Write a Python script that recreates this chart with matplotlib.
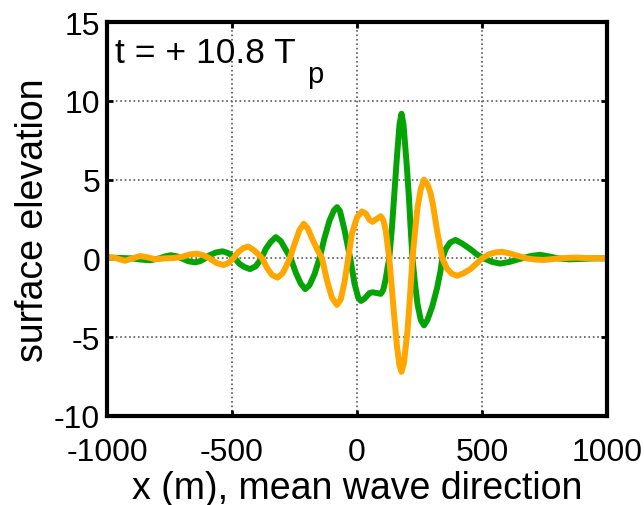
import matplotlib
matplotlib.use("Agg")
import matplotlib.pyplot as plt

plt.rcParams['font.family'] = ['Liberation Sans', 'DejaVu Sans']
plt.rcParams['axes.unicode_minus'] = False

# green curve
x_green = [-1000, -950, -900, -860, -828, -790, -770, -745, -720, -701, -675, -648, -628, -608,
           -590, -565, -538, -513, -488, -470, -450, -428, -405, -382, -365, -345, -325, -305,
           -285, -265, -245, -225, -207, -190, -170, -150, -130, -110, -92, -80, -68, -50, -27,
           -10, 5, 16, 30, 50, 62, 80, 95, 105, 115, 122, 129, 140, 148, 160, 170, 178, 186,
           199, 208, 215, 222, 232, 242, 255, 268, 282, 301, 320, 334, 341, 355, 372, 394, 420,
           454, 480, 507, 540, 573, 610, 659, 695, 732, 770, 805, 850, 900, 950, 1000]
y_green = [0.05, 0.03, 0.0, -0.08, -0.12, 0.0, 0.12, 0.2, 0.13, 0.0, -0.18, -0.25, -0.18, 0.0,
           0.2, 0.37, 0.45, 0.32, 0.0, -0.35, -0.55, -0.68, -0.5, 0.0, 0.6, 1.05, 1.35, 1.1,
           0.55, 0.0, -0.9, -1.6, -1.95, -1.7, -1.0, 0.0, 1.3, 2.4, 3.05, 3.25, 3.0, 1.8, 0.0,
           -1.6, -2.5, -2.7, -2.55, -2.2, -2.15, -2.2, -2.25, -2.0, -1.3, -0.6, 0.0, 2.0, 3.8,
           6.5, 8.5, 9.18, 8.5, 5.9, 3.8, 1.8, 0.0, -1.6, -2.9, -3.9, -4.25, -3.9, -3.05, -1.9,
           -0.8, 0.0, 0.6, 1.0, 1.17, 0.95, 0.58, 0.25, 0.0, -0.22, -0.33, -0.22, 0.0, 0.15,
           0.23, 0.12, 0.0, -0.06, -0.03, 0.0, 0.0]

# orange curve
x_orange = [-1000, -965, -928, -898, -868, -838, -808, -770, -734, -700, -670, -641, -615, -590,
            -561, -534, -515, -495, -475, -455, -435, -415, -397, -379, -360, -340, -318, -298,
            -283, -269, -250, -230, -213, -197, -178, -160, -140, -120, -100, -80, -65, -50, -35,
            -20, 0, 20, 35, 50, 62, 78, 95, 106, 115, 122, 129, 140, 148, 160, 170, 178, 188,
            202, 212, 222, 232, 242, 255, 268, 282, 295, 305, 321, 341, 360, 380, 401, 425, 454,
            478, 500, 530, 555, 580, 615, 646, 679, 710, 745, 780, 810, 850, 880, 920, 1000]
y_orange = [0.1, 0.02, -0.15, 0.0, 0.15, 0.07, -0.05, 0.0, 0.02, 0.1, 0.25, 0.3, 0.2, 0.0,
            -0.3, -0.42, -0.3, 0.0, 0.4, 0.65, 0.75, 0.55, 0.3, 0.0, -0.6, -1.05, -1.22, -0.95,
            -0.5, 0.0, 0.9, 1.8, 2.2, 1.9, 1.2, 0.6, 0.0, -1.4, -2.5, -2.95, -2.6, -1.5, 0.0,
            1.6, 2.6, 2.98, 2.85, 2.45, 2.32, 2.5, 2.68, 2.4, 1.75, 0.9, 0.0, -2.0, -3.5, -5.6,
            -6.8, -7.2, -6.6, -4.6, -2.4, 0.0, 1.7, 3.2, 4.4, 5.0, 4.7, 4.1, 3.3, 1.7, 0.0,
            -0.65, -0.98, -1.1, -0.95, -0.68, -0.33, 0.0, 0.28, 0.38, 0.42, 0.3, 0.15, 0.0,
            -0.07, -0.1, -0.05, 0.0, 0.04, 0.05, 0.02, 0.0]

xticks = [-1000, -500, 0, 500, 1000]
yticks = [-10, -5, 0, 5, 10, 15]

fig = plt.figure(figsize=(6.44, 5.06), dpi=100)
ax = fig.add_axes([107 / 644, (506 - 417) / 506, 500 / 644, 394 / 506])

ax.plot(x_green, y_green, color='#05a305', lw=4.3, solid_joinstyle='round', solid_capstyle='round')
ax.plot(x_orange, y_orange, color='#ffa600', lw=4.3, solid_joinstyle='round', solid_capstyle='round')

ax.set_xlim(-1000, 1000)
ax.set_ylim(-10, 15)
ax.set_xticks(xticks)
ax.set_yticks(yticks)
ax.grid(True, linestyle=':', color='0.35', lw=1.2)
for s in ax.spines.values():
    s.set_linewidth(3)
ax.tick_params(direction='in', length=4, width=2, top=True, right=True, labelsize=23)
ax.tick_params(axis='x', pad=15)
ax.tick_params(axis='y', pad=5)

ax.set_xlabel('x (m), mean wave direction', fontsize=27, labelpad=2)
ax.set_ylabel('surface elevation', fontsize=27, labelpad=2)

# t = + 10.8 T_p
ax.text(0.016, 0.898, 't = + 10.8 T', transform=ax.transAxes, fontsize=25.5, va='baseline', ha='left')
ax.text(0.40, 0.848, 'p', transform=ax.transAxes, fontsize=21, va='baseline', ha='left')

fig.savefig('out.png', dpi=100)
